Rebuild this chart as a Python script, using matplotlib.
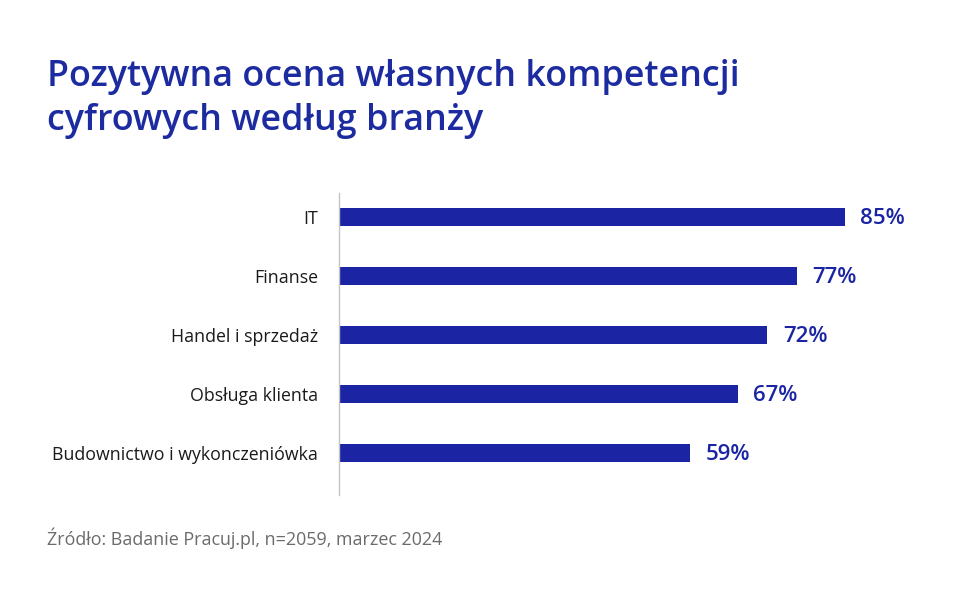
import matplotlib
matplotlib.use("Agg")
import matplotlib.pyplot as plt

plt.rcParams['font.family'] = ['Open Sans', 'DejaVu Sans']

categories = ["IT", "Finanse", "Handel i sprzedaż", "Obsługa klienta",
              "Budownictwo i wykonczeniówka"]
values = [85, 77, 72, 67, 59]

title = "Pozytywna ocena własnych kompetencji\ncyfrowych według branży"
source = "Źródło: Badanie Pracuj.pl, n=2059, marzec 2024"

blue = "#1b25a3"
title_blue = "#1c2ba0"

W, H = 960, 595
fig = plt.figure(figsize=(W / 100, H / 100), dpi=100)
fig.patch.set_facecolor("white")

# axes: x from 339px (0%) to 934px (100%), y from 193px to 495px
ax = fig.add_axes([339 / W, (H - 495) / H, 595 / W, (495 - 193) / H])
pos = list(range(len(categories)))
ax.barh(pos, values, height=0.32, color=blue)
ax.set_xlim(0, 100)
ax.set_ylim(4 + 42 / 59, -24 / 59)

for spine in ["top", "right", "bottom"]:
    ax.spines[spine].set_visible(False)
ax.spines["left"].set_color("#c4c4c4")
ax.spines["left"].set_linewidth(1.0)
ax.set_xticks([])
ax.set_yticks(pos)
ax.set_yticklabels(categories, fontsize=12.8, color="#1a1a1a")
ax.tick_params(axis="y", length=0, pad=15)

for p, v in zip(pos, values):
    ax.text(v + 2.6, p + 0.03, f"{v}%", va="center", ha="left", fontsize=16,
            color=blue, fontweight="semibold")

line1, line2 = title.split("\n")
fig.text(47 / W, 1 - 86 / H, line1, ha="left", va="baseline",
         fontsize=25.8, color=title_blue, fontweight="semibold")
fig.text(47 / W, 1 - 130 / H, line2, ha="left", va="baseline",
         fontsize=25.8, color=title_blue, fontweight="semibold")
fig.text(47 / W, 1 - 545 / H, source, ha="left", va="baseline", fontsize=12.85,
         color="#6b6b6b")

fig.savefig("out.png", dpi=100, facecolor="white")
